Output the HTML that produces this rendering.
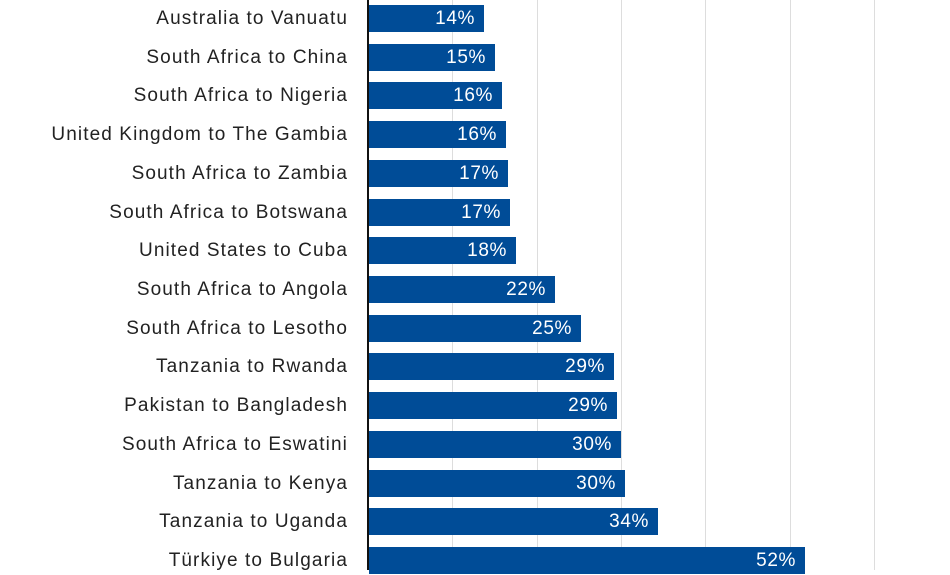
<!DOCTYPE html>
<html><head><style>
body{margin:0;width:950px;height:570px;background:#fff;overflow:hidden;position:relative;font-family:"Liberation Sans",sans-serif;}
.g{position:absolute;top:0;height:570px;width:1px;background:#ddd;}
.ax{position:absolute;left:367px;top:0;width:2px;height:570px;background:#111;}
.b{position:absolute;left:369px;height:27px;background:#004c97;}
.v{position:absolute;right:9px;top:0;line-height:28px;color:#fff;font-size:19px;letter-spacing:0.6px;}
.l{position:absolute;right:602px;line-height:28px;font-size:19px;letter-spacing:1.1px;color:#222;white-space:nowrap;}
</style></head><body>
<div class="g" style="left:452px"></div><div class="g" style="left:537px"></div><div class="g" style="left:621px"></div><div class="g" style="left:705px"></div><div class="g" style="left:790px"></div><div class="g" style="left:874px"></div>
<div id="c"></div>
<div class="ax"></div>
<script>
var d=[["Australia to Vanuatu",484,"14%"],["South Africa to China",495,"15%"],["South Africa to Nigeria",502,"16%"],["United Kingdom to The Gambia",506,"16%"],["South Africa to Zambia",508,"17%"],["South Africa to Botswana",510,"17%"],["United States to Cuba",516,"18%"],["South Africa to Angola",555,"22%"],["South Africa to Lesotho",581,"25%"],["Tanzania to Rwanda",614,"29%"],["Pakistan to Bangladesh",617,"29%"],["South Africa to Eswatini",621,"30%"],["Tanzania to Kenya",625,"30%"],["Tanzania to Uganda",658,"34%"],["Türkiye to Bulgaria",805,"52%"]];
var h="";d.forEach(function(r,i){var t=Math.round(5+i*38.72);
h+='<div class="l" style="top:'+t+'px">'+r[0]+'</div><div class="b" style="top:'+t+'px;width:'+(r[1]-369)+'px"><span class="v">'+r[2]+'</span></div>';});
document.getElementById("c").innerHTML=h;
</script>
</body></html>
